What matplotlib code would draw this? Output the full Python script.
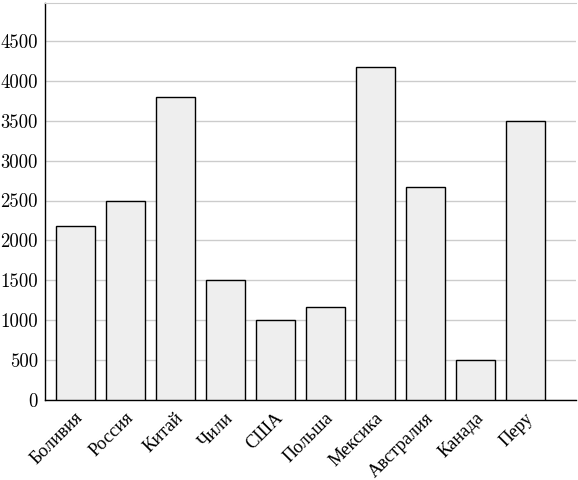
import matplotlib
matplotlib.use("Agg")
import matplotlib.pyplot as plt

countries = ["Боливия", "Россия", "Китай", "Чили", "США", "Польша",
             "Мексика", "Австралия", "Канада", "Перу"]
values = [2175, 2500, 3800, 1500, 1000, 1170, 4170, 2670, 500, 3500]
y_ticks = [0, 500, 1000, 1500, 2000, 2500, 3000, 3500, 4000, 4500]

plt.rcParams['font.family'] = ['cmr10', 'Liberation Serif']
plt.rcParams['axes.formatter.use_mathtext'] = True

fig = plt.figure(figsize=(5.78, 4.8), dpi=100)
ax = fig.add_axes([45 / 578, 80 / 480, 531 / 578, 397 / 480])

x = list(range(len(countries)))
ax.bar(x, values, width=0.78, color='#eeeeee', edgecolor='black', linewidth=1.0, zorder=3)

ax.set_xlim(-0.6, 10.02)
ax.set_ylim(0, 4975)
ax.set_yticks(y_ticks)
ax.set_yticklabels([str(v) for v in y_ticks], fontsize=13.5)
ax.set_xticks(x)
ax.set_xticklabels(countries, rotation=45, ha='right', rotation_mode='anchor', fontsize=13.3)
ax.tick_params(axis='y', length=0, pad=5)
ax.tick_params(axis='x', length=0, pad=7)

ax.yaxis.grid(True, color='#cccccc', linewidth=1.0, zorder=0)
ax.set_axisbelow(True)
ax.spines['right'].set_visible(False)
ax.spines['top'].set_color('#cccccc')
ax.spines['left'].set_linewidth(1.0)
ax.spines['bottom'].set_linewidth(1.0)

fig.savefig("out.png", dpi=100)
